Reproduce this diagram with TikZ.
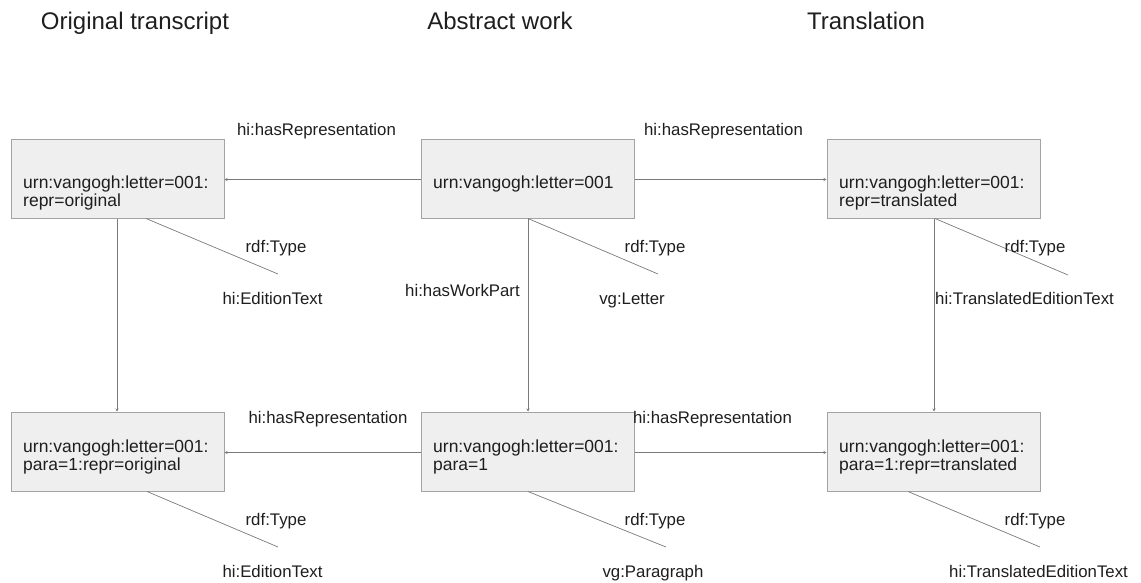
\documentclass[tikz,border=0pt]{standalone}
\usepackage{fontspec}
\setmainfont{Liberation Sans}
\usetikzlibrary{arrows.meta}
\definecolor{boxfill}{HTML}{EFEFEF}
\definecolor{boxline}{HTML}{A3A3A3}
\definecolor{wire}{HTML}{7A7A7A}
\definecolor{ink}{HTML}{1E1E1E}
\tikzset{
  entity/.style={draw=boxline, fill=boxfill, line width=1pt, minimum width=213pt, minimum height=79pt, inner sep=0pt},
  entitytext/.style={anchor=base west, align=left, inner sep=0pt, text=ink, font=\fontsize{17.5}{18}\selectfont},
  heading/.style={anchor=base, inner sep=0pt, text=ink, font=\fontsize{24}{24}\selectfont},
  edgelabel/.style={anchor=base, inner sep=0pt, text=ink, font=\fontsize{16.8}{17}\selectfont},
  link/.style={draw=wire, line width=0.9pt, -{Stealth[length=3pt,width=3pt]}},
  typeline/.style={draw=wire, line width=0.7pt}
}
\begin{document}
\begin{tikzpicture}[x=1pt, y=-1pt]
\useasboundingbox (0,0) rectangle (1141,582);

% column headings
\node[heading] (h1) at (135,29) {Original transcript};
\node[heading] (h2) at (500,29) {Abstract work};
\node[heading] (h3) at (866,29) {Translation};

% entity boxes
\node[entity] (orig)  at (117.5,178.5) {};
\node[entity] (work)  at (527.5,178.5) {};
\node[entity] (trans) at (933.5,178.5) {};
\node[entity] (porig) at (117.5,451.5) {};
\node[entity] (para)  at (527.5,451.5) {};
\node[entity] (ptrans) at (933.5,451.5) {};

% box contents (anchored on the baseline of the last line)
\node[entitytext] (origt)  at (23,206) {urn:vangogh:letter=001:\\repr=original};
\node[entitytext] (workt)  at (433,188) {urn:vangogh:letter=001};
\node[entitytext] (transt) at (839,206) {urn:vangogh:letter=001:\\repr=translated};
\node[entitytext] (porigt) at (23,470) {urn:vangogh:letter=001:\\para=1:repr=original};
\node[entitytext] (parat)  at (433,470) {urn:vangogh:letter=001:\\para=1};
\node[entitytext] (ptranst) at (839,470) {urn:vangogh:letter=001:\\para=1:repr=translated};

% hasRepresentation links
\draw[link] (work.west |- 0,179.5) -- (orig.east |- 0,179.5);
\draw[link] (work.east |- 0,179.5) -- (trans.west |- 0,179.5);
\draw[link] (para.west |- 0,452.5) -- (porig.east |- 0,452.5);
\draw[link] (para.east |- 0,452.5) -- (ptrans.west |- 0,452.5);
\node[edgelabel] (l1) at (316.5,135) {hi:hasRepresentation};
\node[edgelabel] (l2) at (723.5,135) {hi:hasRepresentation};
\node[edgelabel] (l3) at (328,423) {hi:hasRepresentation};
\node[edgelabel] (l4) at (712.5,423) {hi:hasRepresentation};

% vertical links
\draw[link] (orig.south -| 117,0) -- (porig.north -| 117,0);
\draw[link] (work.south -| 528,0) -- (para.north -| 528,0);
\draw[link] (trans.south -| 934,0) -- (ptrans.north -| 934,0);
\node[edgelabel] (l5) at (462.5,296.7) {hi:hasWorkPart};

% rdf:Type lines
\coordinate (e1) at (278,274);
\coordinate (e2) at (658,274);
\coordinate (e3) at (1068,275);
\coordinate (e4) at (278,547);
\coordinate (e5) at (666,547);
\coordinate (e6) at (1040,547);
\draw[typeline] (orig.south -| 146,0) -- (e1);
\draw[typeline] (work.south -| 528,0) -- (e2);
\draw[typeline] (trans.south -| 935,0) -- (e3);
\draw[typeline] (porig.south -| 147,0) -- (e4);
\draw[typeline] (para.south -| 528,0) -- (e5);
\draw[typeline] (ptrans.south -| 908,0) -- (e6);

\node[edgelabel] (t1) at (276,252) {rdf:Type};
\node[edgelabel] (t2) at (655,252) {rdf:Type};
\node[edgelabel] (t3) at (1035,252) {rdf:Type};
\node[edgelabel] (t4) at (276,525) {rdf:Type};
\node[edgelabel] (t5) at (655,525) {rdf:Type};
\node[edgelabel] (t6) at (1035,525) {rdf:Type};

\node[edgelabel] (c1) at (272.5,304) {hi:EditionText};
\node[edgelabel] (c2) at (632,304) {vg:Letter};
\node[edgelabel] (c3) at (1024.5,304) {hi:TranslatedEditionText};
\node[edgelabel] (c4) at (272.5,577) {hi:EditionText};
\node[edgelabel] (c5) at (653,577) {vg:Paragraph};
\node[edgelabel] (c6) at (1038.5,577) {hi:TranslatedEditionText};
\end{tikzpicture}
\end{document}
